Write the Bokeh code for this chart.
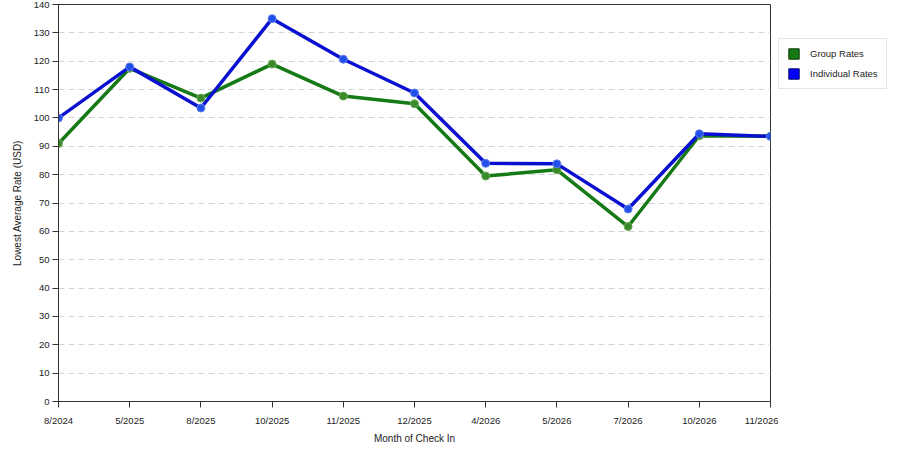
from bokeh.plotting import figure
from bokeh.layouts import row
from bokeh.models import Range1d, FixedTicker, Legend, LegendItem
from bokeh.embed import file_html
from bokeh.resources import INLINE

months = ["8/2024", "5/2025", "8/2025", "10/2025", "11/2025", "12/2025",
          "4/2026", "5/2026", "7/2026", "10/2026", "11/2026"]
group_rates = [91, 117.5, 107, 119, 107.7, 105, 79.5, 81.7, 61.7, 93.7, 93.5]
individual_rates = [100, 118, 103.5, 135, 120.7, 108.8, 84, 83.8, 67.9, 94.4, 93.5]
y_ticks = list(range(0, 141, 10))

FONT = "Liberation Sans"
GREEN = "#157a15"
BLUE = "#0a10d0"

xs = list(range(len(months)))

p = figure(width=778, height=446, output_backend="svg", toolbar_location=None,
           x_range=Range1d(0, len(months) - 1), y_range=Range1d(0, 140),
           min_border_left=58, min_border_right=8, min_border_top=4,
           min_border_bottom=45)

p.outline_line_color = "#333333"
p.xgrid.grid_line_color = None
p.ygrid.grid_line_color = "#d4d4d4"
p.ygrid.grid_line_dash = "6 4"
p.ygrid.ticker = FixedTicker(ticks=y_ticks)

p.xaxis.ticker = FixedTicker(ticks=xs)
p.xaxis.major_label_overrides = {i: m for i, m in enumerate(months)}
p.yaxis.ticker = FixedTicker(ticks=y_ticks)

for ax in (p.xaxis[0], p.yaxis[0]):
    ax.axis_line_color = "#333333"
    ax.major_tick_line_color = "#333333"
    ax.major_tick_out = 6
    ax.major_tick_in = 0
    ax.minor_tick_line_color = None
    ax.major_label_text_font = FONT
    ax.major_label_text_font_size = "9.5px"
    ax.major_label_text_color = "#222222"
    ax.axis_label_text_font = FONT
    ax.axis_label_text_font_size = "10px"
    ax.axis_label_text_font_style = "normal"
    ax.axis_label_text_color = "#222222"

p.xaxis.axis_label = "Month of Check In"
p.yaxis.axis_label = "Lowest Average Rate (USD)"
p.xaxis.major_label_standoff = 7
p.xaxis.axis_label_standoff = 4
p.yaxis.major_label_standoff = 3
p.yaxis.axis_label_standoff = 8

# lines + markers
p.line(xs, group_rates, line_color=GREEN, line_width=3.5)
p.scatter(xs, group_rates, size=8, fill_color="#3a8a2a", line_color="#6aaa5a", line_width=1)
p.line(xs, individual_rates, line_color=BLUE, line_width=3.5)
p.scatter(xs, individual_rates, size=8, fill_color="#2050e8", line_color="#6080f0", line_width=1)

# legend lives in its own little blank figure to the right
leg = figure(width=114, height=446, output_backend="svg", toolbar_location=None,
             x_range=Range1d(0, 1), y_range=Range1d(0, 1),
             x_axis_type=None, y_axis_type=None,
             min_border_left=0, min_border_right=0, min_border_top=0, min_border_bottom=0)
leg.outline_line_color = None
leg.grid.grid_line_color = None

# zero-size quads, only used to get square swatches in the legend
sw_g = leg.quad(left=[0], right=[0], top=[0], bottom=[0],
                fill_color="#157a15", line_color="#0a3a0a")
sw_b = leg.quad(left=[0], right=[0], top=[0], bottom=[0],
                fill_color="#0000ff", line_color="#00006a")

legend = Legend(items=[LegendItem(label="Group Rates", renderers=[sw_g]),
                       LegendItem(label="Individual Rates", renderers=[sw_b])],
                location=(0, 312), orientation="vertical")
legend.margin = 0
legend.padding = 8
legend.spacing = 7
legend.glyph_width = 13
legend.glyph_height = 13
legend.label_standoff = 10
legend.label_text_font = FONT
legend.label_text_font_size = "9.5px"
legend.label_text_color = "#222222"
legend.label_height = 13
legend.border_line_color = "#cccccc"
legend.background_fill_color = "white"
leg.add_layout(legend)

layout = row(p, leg)
open("out.html", "w").write(file_html(layout, INLINE))
